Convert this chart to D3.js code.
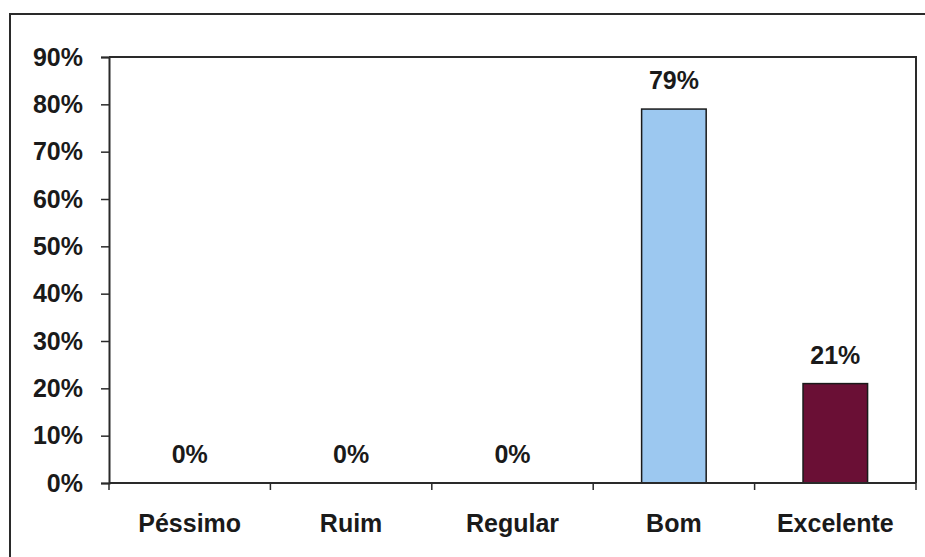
<!DOCTYPE html>
<html>
<head>
<meta charset="utf-8">
<script src="https://cdn.jsdelivr.net/npm/d3@7"></script>
<style>
  html, body { margin: 0; padding: 0; background: #fff; }
  svg { display: block; }
  text { font-family: "Liberation Sans", Arial, sans-serif; fill: #1a1a1a; }
</style>
</head>
<body>
<svg id="chart" width="925" height="557"></svg>
<script>
// Avaliação: share of answers per rating
const categories = ["Péssimo", "Ruim", "Regular", "Bom", "Excelente"];
const values = [0, 0, 0, 79, 21];
const barColors = ["#9cc8f0", "#9cc8f0", "#9cc8f0", "#9cc8f0", "#6a0f35"];
const yTicks = [0, 10, 20, 30, 40, 50, 60, 70, 80, 90];

const svg = d3.select("#chart");
const plot = { left: 109, right: 916, top: 57, bottom: 483 };
const FONT = 25;

// outer chart frame (runs past the right and bottom edges)
svg.append("rect")
  .attr("x", 10).attr("y", 14)
  .attr("width", 940).attr("height", 600)
  .attr("fill", "none").attr("stroke", "#2a2a2a").attr("stroke-width", 2);

const x = d3.scaleBand()
  .domain(categories)
  .range([plot.left, plot.right])
  .paddingInner(0.6).paddingOuter(0.3);

const y = d3.scaleLinear().domain([0, 90]).range([plot.bottom, plot.top]);

// plot area border (top and right)
svg.append("path")
  .attr("d", `M${plot.left},${plot.top}H${plot.right}V${plot.bottom}`)
  .attr("fill", "none").attr("stroke", "#2a2a2a").attr("stroke-width", 2);

// bars
svg.append("g").selectAll("rect")
  .data(values)
  .join("rect")
  .attr("x", (d, i) => x(categories[i]))
  .attr("y", d => y(d))
  .attr("width", x.bandwidth())
  .attr("height", d => y(0) - y(d))
  .attr("fill", (d, i) => barColors[i])
  .attr("stroke", d => d > 0 ? "#1a1a1a" : "none")
  .attr("stroke-width", 1.5);

// value labels
svg.append("g").selectAll("text")
  .data(values)
  .join("text")
  .attr("x", (d, i) => x(categories[i]) + x.bandwidth() / 2)
  .attr("y", d => y(d) - 20)
  .attr("text-anchor", "middle")
  .attr("font-size", FONT).attr("font-weight", "bold")
  .text(d => d + "%");

// y axis
const yAxis = d3.axisLeft(y)
  .tickValues(yTicks)
  .tickSize(8).tickPadding(18)
  .tickFormat(d => d + "%");
const gy = svg.append("g")
  .attr("transform", `translate(${plot.left},0)`)
  .call(yAxis);
gy.select(".domain").attr("stroke", "#2a2a2a").attr("stroke-width", 2);
gy.selectAll(".tick line").attr("stroke", "#2a2a2a").attr("stroke-width", 1.5);
gy.selectAll(".tick text")
  .attr("font-size", FONT).attr("font-weight", "bold")
  .attr("font-family", "Liberation Sans, Arial, sans-serif")
  .attr("fill", "#1a1a1a");

// x axis with ticks on category boundaries
const xAxis = d3.axisBottom(x).tickSize(0).tickPadding(31);
const gx = svg.append("g")
  .attr("transform", `translate(0,${plot.bottom})`)
  .call(xAxis);
gx.select(".domain").remove();
gx.append("line")
  .attr("x1", plot.left).attr("x2", plot.right)
  .attr("stroke", "#2a2a2a").attr("stroke-width", 2);
gx.selectAll(".boundary")
  .data(d3.range(categories.length + 1))
  .join("line")
  .attr("class", "boundary")
  .attr("x1", i => plot.left + i * (plot.right - plot.left) / categories.length)
  .attr("x2", i => plot.left + i * (plot.right - plot.left) / categories.length)
  .attr("y1", 0).attr("y2", 7)
  .attr("stroke", "#2a2a2a").attr("stroke-width", 1.5);
gx.selectAll(".tick text")
  .attr("font-size", FONT).attr("font-weight", "bold")
  .attr("font-family", "Liberation Sans, Arial, sans-serif")
  .attr("fill", "#1a1a1a")
  .attr("dy", "0.71em");
</script>
</body>
</html>
